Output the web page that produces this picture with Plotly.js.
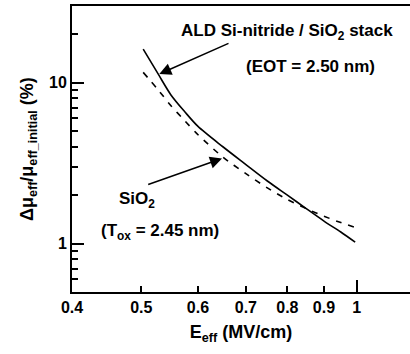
<!DOCTYPE html>
<html>
<head>
<meta charset="utf-8">
<script src="https://cdn.plot.ly/plotly-3.0.1.min.js"></script>
<style>html,body{margin:0;padding:0;background:#fff;}#chart{width:410px;height:354px;}</style>
</head>
<body>
<div id="chart"></div>
<script>
// ALD Si-nitride / SiO2 stack (solid)
const stackE  = [0.503, 0.528, 0.55, 0.575, 0.60, 0.65, 0.70, 0.75, 0.80, 0.85, 0.90, 0.95, 0.995];
const stackMu = [16.2, 11.3, 8.4, 6.6, 5.35, 4.0, 3.1, 2.45, 2.0, 1.65, 1.38, 1.18, 1.02];
// SiO2 (dashed)
const sioE  = [0.503, 0.526, 0.55, 0.575, 0.60, 0.65, 0.70, 0.75, 0.80, 0.85, 0.90, 0.95, 0.995];
const sioMu = [11.6, 9.2, 7.2, 5.8, 4.75, 3.45, 2.72, 2.22, 1.88, 1.65, 1.48, 1.35, 1.26];
// ticks
const xTicks = [0.4, 0.5, 0.6, 0.7, 0.8, 0.9, 1];
const xTickText = ['0.4', '0.5', '0.6', '0.7', '0.8', '0.9', '1'];
const yTicks = [1, 10];
const yTickText = ['1', '10'];
const yMinor = [0.6, 0.7, 0.8, 0.9, 2, 3, 4, 5, 6, 7, 8, 9, 20];

const F = '"Liberation Sans", Arial, Helvetica, sans-serif';
const fnt = (s) => ({family: F, size: s, color: '#000', weight: 700});
const b = (t) => '<b>' + t + '</b>';

const traces = [
  {x: stackE, y: stackMu, type: 'scatter', mode: 'lines', line: {color: '#000', width: 1.6, shape: 'spline', smoothing: 0.8}, showlegend: false, hoverinfo: 'skip'},
  {x: sioE, y: sioMu, type: 'scatter', mode: 'lines', line: {color: '#000', width: 1.6, dash: '6px,7px', shape: 'spline', smoothing: 0.8}, showlegend: false, hoverinfo: 'skip'},
  {x: [], y: [], type: 'scatter', mode: 'lines', xaxis: 'x2', yaxis: 'y', showlegend: false, hoverinfo: 'skip'}
];

const layout = {
  width: 410, height: 354,
  margin: {l: 72, r: 0, t: 6, b: 62},
  paper_bgcolor: '#fff', plot_bgcolor: '#fff',
  showlegend: false,
  font: fnt(16),
  xaxis: {
    type: 'log', range: [Math.log10(0.4), Math.log10(1.187)],
    tickvals: xTicks, ticktext: xTickText.map(b),
    ticks: 'inside', ticklen: 6, tickwidth: 2, tickcolor: '#000',
    showline: true, linewidth: 2, linecolor: '#000', mirror: true,
    showgrid: false, zeroline: false,
    tickfont: fnt(16),
    title: {text: b('E<sub>eff</sub> (MV/cm)'), font: fnt(18), standoff: 10}
  },
  xaxis2: {
    type: 'log', range: [Math.log10(0.4), Math.log10(1.187)],
    overlaying: 'x', anchor: 'y', side: 'bottom',
    tickvals: [1], showticklabels: false,
    ticks: 'inside', ticklen: 12, tickwidth: 2, tickcolor: '#000',
    showline: false, showgrid: false, zeroline: false
  },
  yaxis: {
    type: 'log', range: [Math.log10(0.5), Math.log10(30)],
    tickvals: yTicks, ticktext: yTickText.map(b),
    ticks: 'inside', ticklen: 12, tickwidth: 2, tickcolor: '#000',
    minor: {tickvals: yMinor, ticks: 'inside', ticklen: 6, tickwidth: 2, tickcolor: '#000', showgrid: false},
    showline: true, linewidth: 2, linecolor: '#000', mirror: false,
    showgrid: false, zeroline: false,
    tickfont: fnt(16)
  },
  annotations: [
    {xref: 'paper', yref: 'paper', x: (28 - 72) / 338, y: 0.5, textangle: -90, text: b('Δμ<sub>eff</sub>/μ<sub>eff_initial</sub> (%)'), showarrow: false, font: fnt(18), xanchor: 'center', yanchor: 'middle'},
    {xref: 'paper', yref: 'paper', x: (287 - 72) / 338, y: (292 - 31.7) / 286, text: b('ALD Si-nitride / SiO<sub>2</sub> stack'), showarrow: false, font: fnt(17), xanchor: 'center', yanchor: 'middle'},
    {xref: 'paper', yref: 'paper', x: (310 - 72) / 338, y: (292 - 66.7) / 286, text: b('(EOT = 2.50 nm)'), showarrow: false, font: fnt(17), xanchor: 'center', yanchor: 'middle'},
    {xref: 'paper', yref: 'paper', x: (136.5 - 72) / 338, y: (292 - 200) / 286, text: b('SiO<sub>2</sub>'), showarrow: false, font: fnt(17), xanchor: 'center', yanchor: 'middle'},
    {xref: 'paper', yref: 'paper', x: (160 - 72) / 338, y: (292 - 231.7) / 286, text: b('(T<sub>ox</sub> = 2.45 nm)'), showarrow: false, font: fnt(17), xanchor: 'center', yanchor: 'middle'},
    {xref: 'paper', yref: 'paper', x: (159.3 - 72) / 338, y: (292 - 74) / 286, text: '', showarrow: true, ax: 70.7, ay: -31.3, axref: 'pixel', ayref: 'pixel', arrowhead: 2, arrowsize: 1.6, arrowwidth: 1.5, arrowcolor: '#000', standoff: 0},
    {xref: 'paper', yref: 'paper', x: (222 - 72) / 338, y: (292 - 158.5) / 286, text: '', showarrow: true, ax: -75.3, ay: 26.5, axref: 'pixel', ayref: 'pixel', arrowhead: 2, arrowsize: 1.6, arrowwidth: 1.5, arrowcolor: '#000', standoff: 0}
  ]
};

Plotly.newPlot('chart', traces, layout, {displayModeBar: false, staticPlot: true});
</script>
</body>
</html>
